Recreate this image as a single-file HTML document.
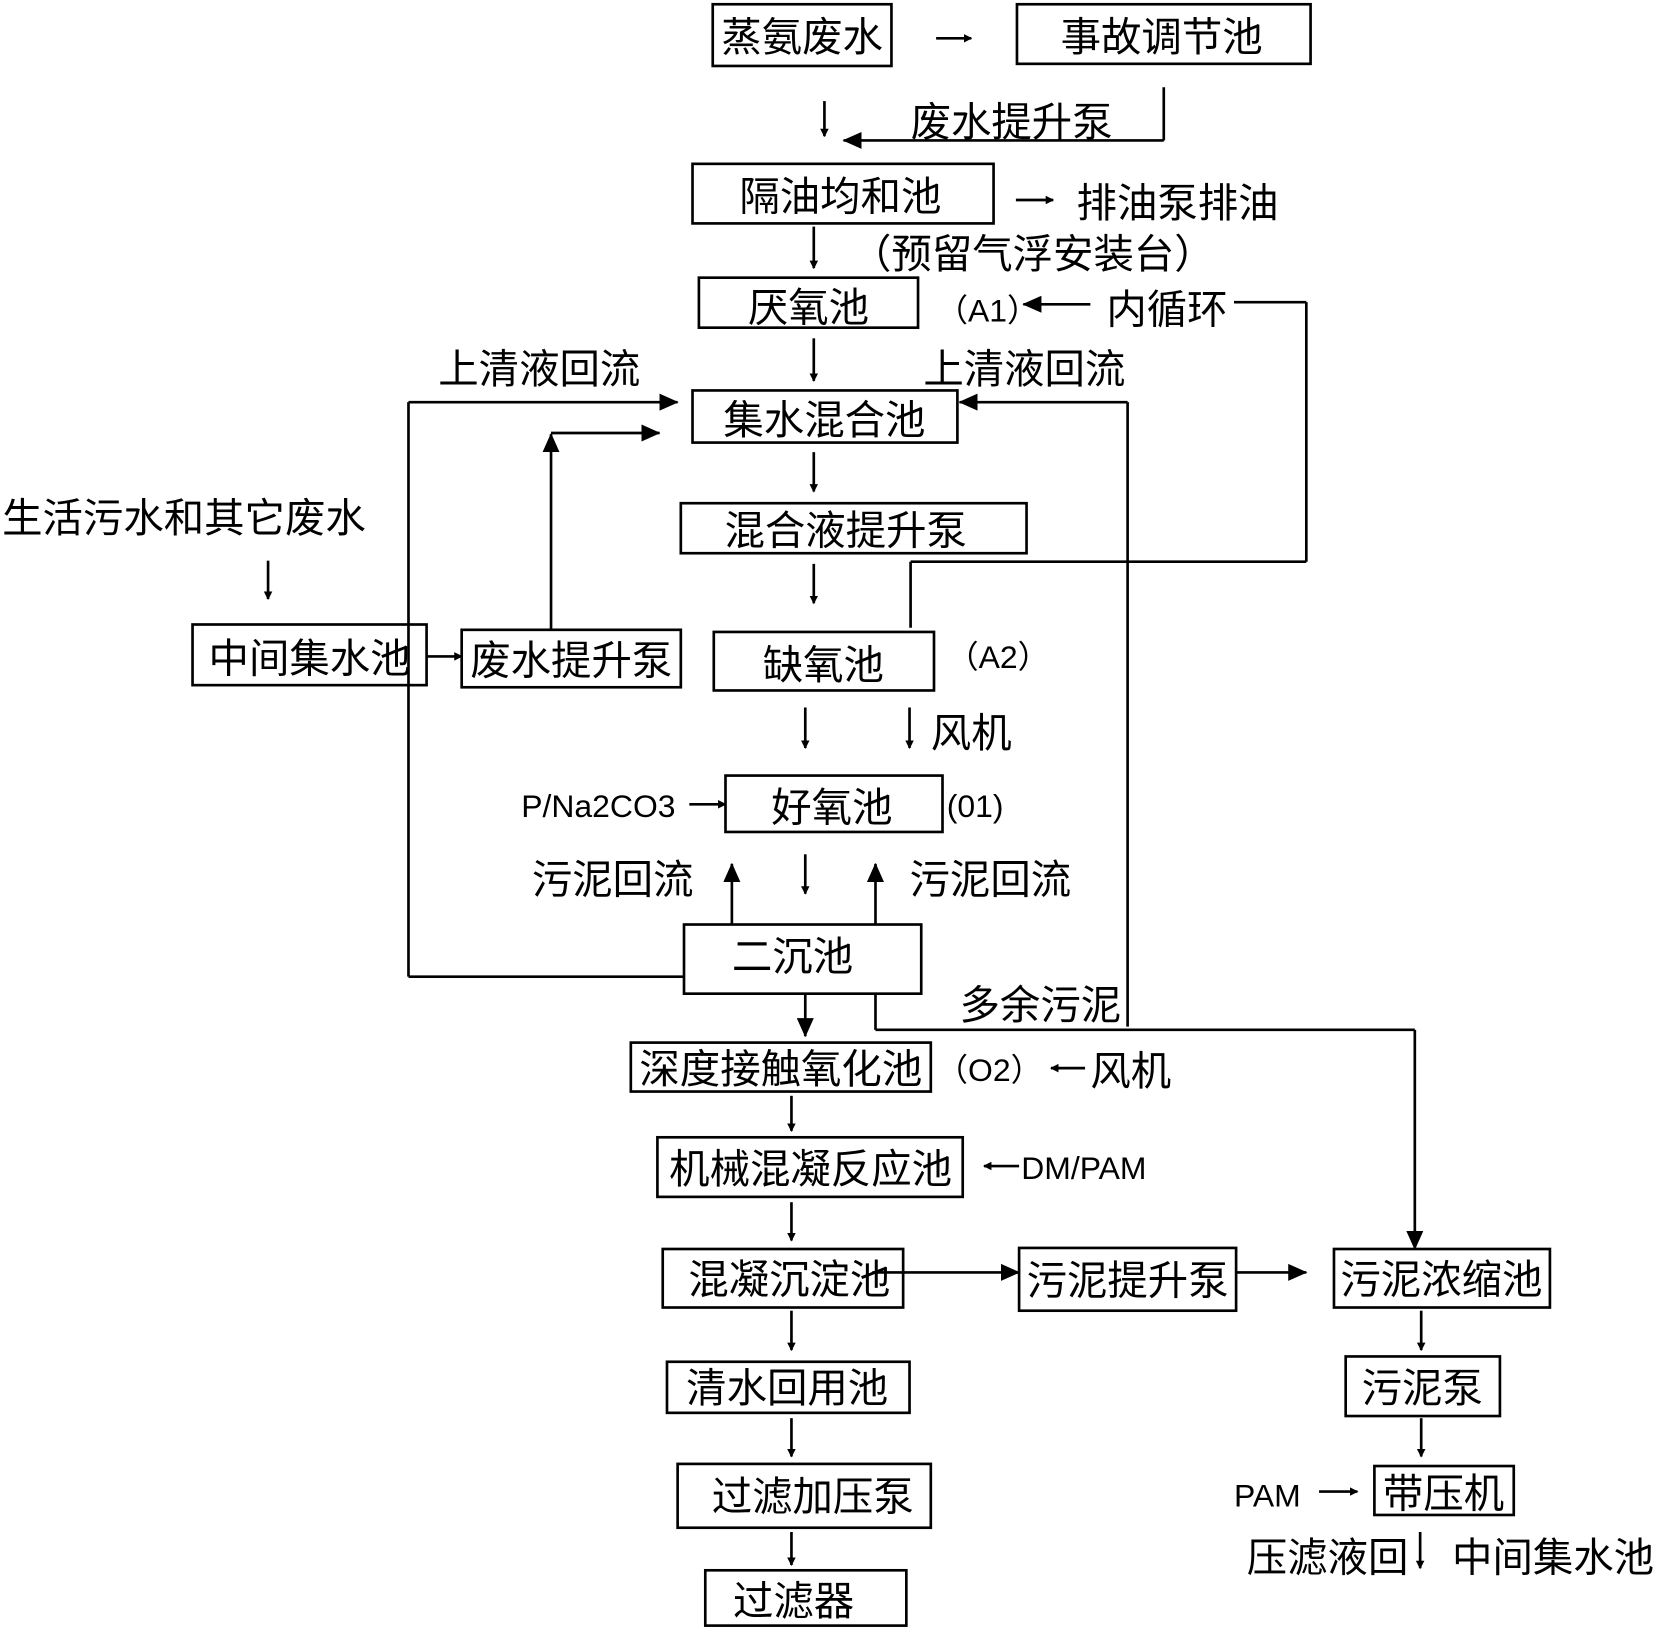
<!DOCTYPE html>
<html><head><meta charset="utf-8"><style>
html,body{margin:0;padding:0;background:#fff}
svg{display:block}
text{font-family:"Liberation Sans","Noto Sans CJK SC","WenQuanYi Zen Hei",sans-serif;fill:#000}
.b{fill:none;stroke:#000;stroke-width:2.5}
.l{fill:none;stroke:#000;stroke-width:2.5}
.t{font-size:38px}
.m{font-family:"Liberation Mono",monospace;font-size:30px}
</style></head><body>
<svg width="1668" height="1632" viewBox="0 0 1568 1534" preserveAspectRatio="none" xmlns="http://www.w3.org/2000/svg">
<defs><marker id="a" markerWidth="8" markerHeight="8" refX="7" refY="4" orient="auto" markerUnits="userSpaceOnUse"><path d="M0,0 L8,4 L0,8z" fill="#000"/></marker>
<marker id="A" markerWidth="18" markerHeight="16" refX="17" refY="8" orient="auto" markerUnits="userSpaceOnUse"><path d="M0,0 L18,8 L0,16z" fill="#000"/></marker></defs>
<rect class="b" x="670" y="4" width="168" height="58"/>
<rect class="b" x="956" y="4" width="276" height="56"/>
<rect class="b" x="651" y="154" width="283" height="56"/>
<rect class="b" x="657" y="261" width="206" height="47"/>
<rect class="b" x="651" y="367" width="249" height="49"/>
<rect class="b" x="640" y="473" width="325" height="47"/>
<rect class="b" x="671" y="594" width="207" height="55"/>
<rect class="b" x="682" y="729" width="204" height="53"/>
<rect class="b" x="643" y="869" width="223" height="65"/>
<rect class="b" x="593" y="980" width="282" height="46"/>
<rect class="b" x="618" y="1069" width="287" height="56"/>
<rect class="b" x="623" y="1174" width="226" height="55"/>
<rect class="b" x="627" y="1280" width="228" height="48"/>
<rect class="b" x="637" y="1376" width="238" height="60"/>
<rect class="b" x="663" y="1476" width="189" height="52"/>
<rect class="b" x="181" y="587" width="220" height="57"/>
<rect class="b" x="434" y="592" width="206" height="54"/>
<rect class="b" x="958" y="1173" width="204" height="59"/>
<rect class="b" x="1254" y="1174" width="203" height="55"/>
<rect class="b" x="1265" y="1275" width="145" height="56"/>
<rect class="b" x="1292" y="1378" width="131" height="46"/>
<g class="t" text-anchor="middle">
<text x="754" y="48">蒸氨废水</text>
<text x="1092" y="48">事故调节池</text>
<text x="790" y="198">隔油均和池</text>
<text x="760" y="302">厌氧池</text>
<text x="775" y="408">集水混合池</text>
<text x="795" y="512">混合液提升泵</text>
<text x="774" y="638">缺氧池</text>
<text x="782" y="772">好氧池</text>
<text x="745" y="912">二沉池</text>
<text x="734" y="1018">深度接触氧化池</text>
<text x="762" y="1112">机械混凝反应池</text>
<text x="742" y="1216">混凝沉淀池</text>
<text x="740" y="1318">清水回用池</text>
<text x="764" y="1420">过滤加压泵</text>
<text x="746" y="1518">过滤器</text>
<text x="291" y="632">中间集水池</text>
<text x="537" y="634">废水提升泵</text>
<text x="1060" y="1217">污泥提升泵</text>
<text x="1355" y="1216">污泥浓缩池</text>
<text x="1337" y="1318">污泥泵</text>
<text x="1357" y="1417">带压机</text>
</g>
<g class="t">
<text x="856" y="128">废水提升泵</text>
<text x="1012" y="204">排油泵排油</text>
<text x="800" y="252">（预留气浮安装台）</text>
<text x="1040" y="304">内循环</text>
<text x="412" y="360">上清液回流</text>
<text x="868" y="360">上清液回流</text>
<text x="2" y="500">生活污水和其它废水</text>
<text x="875" y="702">风机</text>
<text x="500" y="840">污泥回流</text>
<text x="855" y="840">污泥回流</text>
<text x="902" y="958">多余污泥</text>
<text x="1025" y="1020">风机</text>
<text x="1172" y="1477">压滤液回</text>
<text x="1365" y="1477">中间集水池</text>
</g>
<g class="m">
<text x="880" y="302">（A1）</text>
<text x="890" y="628">（A2）</text>
<text x="490" y="768">P/Na2CO3</text>
<text x="890" y="768">(01)</text>
<text x="880" y="1016">（O2）</text>
<text x="960" y="1108">DM/PAM</text>
<text x="1160" y="1416">PAM</text>
</g>
<g class="l">
<line x1="880" y1="36" x2="913" y2="36" marker-end="url(#a)"/>
<line x1="775" y1="95" x2="775" y2="128" marker-end="url(#a)"/>
<line x1="1094" y1="82" x2="1094" y2="132"/><line x1="1094" y1="132" x2="855" y2="132"/>
<line x1="855" y1="132" x2="793" y2="132" marker-end="url(#A)"/>
<line x1="955" y1="188" x2="990" y2="188" marker-end="url(#a)"/>
<line x1="765" y1="213" x2="765" y2="252" marker-end="url(#a)"/>
<line x1="1160" y1="284" x2="1228" y2="284"/><line x1="1228" y1="284" x2="1228" y2="528"/>
<line x1="1228" y1="528" x2="856" y2="528"/><line x1="856" y1="528" x2="856" y2="590"/>
<line x1="1025" y1="286" x2="962" y2="286" marker-end="url(#A)"/>
<line x1="765" y1="318" x2="765" y2="358" marker-end="url(#a)"/>
<line x1="384" y1="378" x2="637" y2="378" marker-end="url(#A)"/>
<line x1="384" y1="378" x2="384" y2="918"/><line x1="384" y1="918" x2="643" y2="918"/>
<line x1="1060" y1="965" x2="1060" y2="378"/>
<line x1="1060" y1="378" x2="902" y2="378" marker-end="url(#A)"/>
<line x1="252" y1="527" x2="252" y2="563" marker-end="url(#a)"/>
<line x1="401" y1="617" x2="434" y2="617" marker-end="url(#a)"/>
<line x1="518" y1="592" x2="518" y2="408" marker-end="url(#A)"/>
<line x1="518" y1="407" x2="620" y2="407" marker-end="url(#A)"/>
<line x1="765" y1="425" x2="765" y2="462" marker-end="url(#a)"/>
<line x1="765" y1="530" x2="765" y2="567" marker-end="url(#a)"/>
<line x1="757" y1="665" x2="757" y2="703" marker-end="url(#a)"/>
<line x1="855" y1="665" x2="855" y2="703" marker-end="url(#a)"/>
<line x1="648" y1="756" x2="682" y2="756" marker-end="url(#a)"/>
<line x1="688" y1="869" x2="688" y2="812" marker-end="url(#A)"/>
<line x1="757" y1="803" x2="757" y2="840" marker-end="url(#a)"/>
<line x1="823" y1="869" x2="823" y2="812" marker-end="url(#A)"/>
<line x1="757" y1="934" x2="757" y2="974" marker-end="url(#A)"/>
<line x1="823" y1="934" x2="823" y2="968"/><line x1="823" y1="968" x2="1330" y2="968"/>
<line x1="1330" y1="968" x2="1330" y2="1174" marker-end="url(#A)"/>
<line x1="1020" y1="1004" x2="988" y2="1004" marker-end="url(#a)"/>
<line x1="744" y1="1030" x2="744" y2="1063" marker-end="url(#a)"/>
<line x1="958" y1="1096" x2="925" y2="1096" marker-end="url(#a)"/>
<line x1="744" y1="1130" x2="744" y2="1166" marker-end="url(#a)"/>
<line x1="820" y1="1196" x2="958" y2="1196" marker-end="url(#A)"/>
<line x1="1162" y1="1196" x2="1228" y2="1196" marker-end="url(#A)"/>
<line x1="744" y1="1232" x2="744" y2="1269" marker-end="url(#a)"/>
<line x1="744" y1="1333" x2="744" y2="1369" marker-end="url(#a)"/>
<line x1="744" y1="1440" x2="744" y2="1471" marker-end="url(#a)"/>
<line x1="1336" y1="1232" x2="1336" y2="1269" marker-end="url(#a)"/>
<line x1="1336" y1="1333" x2="1336" y2="1369" marker-end="url(#a)"/>
<line x1="1240" y1="1402" x2="1276" y2="1402" marker-end="url(#a)"/>
<line x1="1335" y1="1440" x2="1335" y2="1474" marker-end="url(#a)"/>
</g>
</svg>
</body></html>
